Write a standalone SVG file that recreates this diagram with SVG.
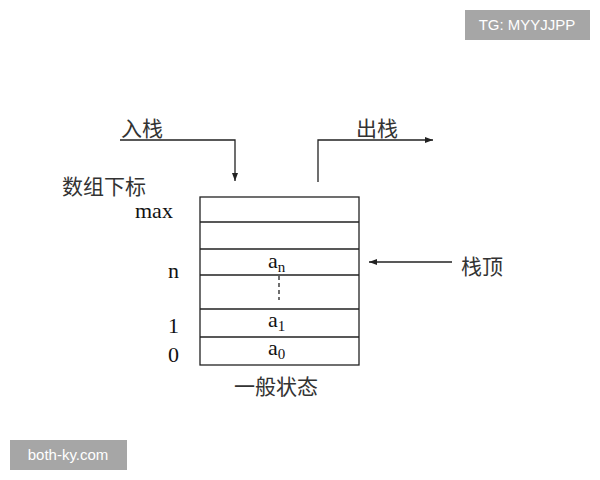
<svg xmlns="http://www.w3.org/2000/svg" width="600" height="480" viewBox="0 0 600 480">
<defs>
<marker id="ah" markerWidth="8" markerHeight="6" refX="8" refY="3" orient="auto" markerUnits="userSpaceOnUse"><path d="M0,0 L8,3 L0,6 z" fill="#222"/></marker>
<style>
.l{stroke:#222;stroke-width:1.3;fill:none}
.cn{font-family:"Noto Sans CJK SC",sans-serif;font-size:21px;fill:#333}
.t{font-family:"Liberation Serif",serif;font-size:22px;fill:#111}
.w{font-family:"Liberation Sans",sans-serif;font-size:15px;fill:#fff}
</style>
</defs>
<rect width="600" height="480" fill="#fff"/>
<g id="connectors">
<path class="l" d="M120,140 H235 V181" marker-end="url(#ah)"/>
<path class="l" d="M318,182 V140 H433" marker-end="url(#ah)"/>
<path class="l" d="M452,262 H369" marker-end="url(#ah)"/>
</g>
<g id="stack">
<rect class="l" x="200" y="197" width="159" height="168"/>
<path class="l" d="M200,222H359M200,249H359M200,275H359M200,309H359M200,337H359"/>
<path class="l" d="M279,276V300" stroke-dasharray="4,3"/>
<text class="t" x="268" y="268">a<tspan font-size="15" dy="4">n</tspan></text>
<text class="t" x="268" y="327">a<tspan font-size="15" dy="4">1</tspan></text>
<text class="t" x="268" y="355">a<tspan font-size="15" dy="4">0</tspan></text>
</g>
<g id="labels">
<text class="cn" x="121" y="136">入栈</text>
<text class="cn" x="356" y="136">出栈</text>
<text class="cn" x="62" y="194">数组下标</text>
<text class="t" x="135" y="218">max</text>
<text class="t" x="168" y="278">n</text>
<text class="t" x="168" y="333">1</text>
<text class="t" x="168" y="362">0</text>
<text class="cn" x="461" y="274">栈顶</text>
<text class="cn" x="234" y="394">一般状态</text>
</g>
<g id="watermarks">
<rect x="465" y="10" width="125" height="30" fill="#a6a6a6"/>
<text class="w" x="527" y="30" text-anchor="middle">TG: MYYJJPP</text>
<rect x="10" y="440" width="117" height="30" fill="#a6a6a6"/>
<text class="w" x="68" y="460" text-anchor="middle">both-ky.com</text>
</g>
</svg>
